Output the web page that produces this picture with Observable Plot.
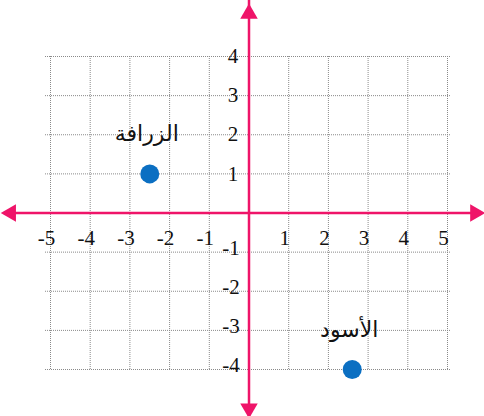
<!DOCTYPE html>
<html>
<head>
<meta charset="utf-8">
<script src="https://cdn.jsdelivr.net/npm/d3@7"></script>
<script src="https://cdn.jsdelivr.net/npm/@observablehq/plot@0.6"></script>
<style>
  html, body { margin: 0; padding: 0; background: #fff; }
</style>
</head>
<body>
<div id="chart"></div>
<script>
// Data
const gridX = [-5, -4, -3, -2, -1, 0, 1, 2, 3, 4, 5];
const gridY = [-4, -3, -2, -1, 0, 1, 2, 3, 4];
const xTickLabels = [-5, -4, -3, -2, -1, 1, 2, 3, 4, 5];
const yTickLabelsPos = [1, 2, 3, 4];
const yTickLabelsNeg = [-4, -3, -2, -1];
const animalNames = ["الزرافة", "الأسود"];
const animalX = [-2.5, 2.6];
const animalY = [1, -4];
// axis line extents (data units, beyond grid)
const xAxisEnds = [-6.2, 5.9];
const yAxisEnds = [-5.2, 5.3];

const pink = "#ef1469";
const blue = "#0b6fc2";
const gridColor = "#8a8a8a";
const serif = "'Liberation Serif', 'Times New Roman', Times, serif";

const animals = animalNames.map((name, i) => ({name, x: animalX[i], y: animalY[i]}));
const arrowHeads = [
  {x: xAxisEnds[0], y: 0, rot: -90, dx: 8, dy: 0},
  {x: xAxisEnds[1], y: 0, rot: 90, dx: -8, dy: 0},
  {x: 0, y: yAxisEnds[1], rot: 0, dx: 0, dy: 8},
  {x: 0, y: yAxisEnds[0], rot: 180, dx: 0, dy: -8}
];

const chart = Plot.plot({
  width: 484,
  height: 416,
  marginLeft: 50,
  marginRight: 37,
  marginTop: 56,
  marginBottom: 47,
  x: {domain: [-5, 5], axis: null},
  y: {domain: [-4, 4], axis: null},
  style: {fontFamily: serif, background: "#fff"},
  marks: [
    Plot.ruleX(gridX, {x: d => d, y1: -4, y2: 4, stroke: gridColor, strokeWidth: 1, strokeDasharray: "1,1"}),
    Plot.ruleY(gridY, {y: d => d, x1: -5, x2: 5, insetLeft: -5, insetRight: -4, stroke: gridColor, strokeWidth: 1, strokeDasharray: "1,1"}),
    // axes
    Plot.ruleY([0], {x1: xAxisEnds[0], x2: xAxisEnds[1], insetLeft: 10, insetRight: 10, stroke: pink, strokeWidth: 2.5}),
    Plot.ruleX([0], {y1: yAxisEnds[0], y2: yAxisEnds[1], insetTop: 10, insetBottom: 10, stroke: pink, strokeWidth: 2.5}),
    ...arrowHeads.map(h => Plot.dot([h], {x: "x", y: "y", dx: h.dx, dy: h.dy, rotate: "rot", symbol: "triangle", r: 6.5, fill: pink, stroke: "none"})),
    // tick labels
    Plot.text(xTickLabels, {x: d => d, y: 0, text: d => String(d), dy: 25, dx: -4, fontSize: 21, fontFamily: serif, fill: "#111"}),
    Plot.text(yTickLabelsPos, {x: 0, y: d => d, text: d => String(d), dx: -16, fontSize: 21, fontFamily: serif, fill: "#111"}),
    Plot.text(yTickLabelsNeg, {x: 0, y: d => d, text: d => String(d), dx: -18, dy: -4, fontSize: 21, fontFamily: serif, fill: "#111"}),
    // points
    Plot.dot(animals, {x: "x", y: "y", r: 9.5, fill: blue}),
    Plot.text(animals, {x: "x", y: "y", text: "name", dy: -40, dx: -3, fontSize: 22, fill: "#111", fontFamily: "'Liberation Serif', 'DejaVu Serif', 'DejaVu Sans', serif"})
  ]
});
document.getElementById("chart").appendChild(chart);
</script>
</body>
</html>
